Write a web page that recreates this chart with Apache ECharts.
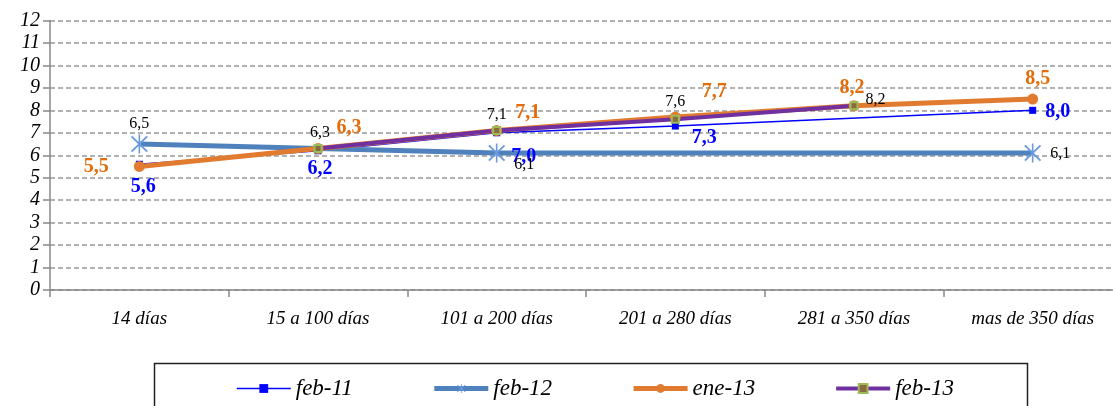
<!DOCTYPE html>
<html>
<head>
<meta charset="utf-8">
<script src="https://cdn.jsdelivr.net/npm/echarts@6/dist/echarts.min.js"></script>
<style>
  html, body { margin: 0; padding: 0; background: #fff; }
  #chart { width: 1113px; height: 406px; }
</style>
</head>
<body>
<div id="chart"></div>
<script>
// data
var categories = ['14 días', '15 a 100 días', '101 a 200 días', '201 a 280 días', '281 a 350 días', 'mas de 350 días'];
var feb11 = [5.6, 6.2, 7.0, 7.3, null, 8.0];
var feb12 = [6.5, null, 6.1, null, null, 6.1];
var ene13 = [5.5, 6.3, 7.1, 7.7, 8.2, 8.5];
var feb13 = [null, 6.3, 7.1, 7.6, 8.2, null];
var yTicks = [0, 1, 2, 3, 4, 5, 6, 7, 8, 9, 10, 11, 12];

var serif = 'Liberation Serif';

// label placement per point: [position, offsetX, offsetY]
var feb11Pos = [['bottom', 4, 4], ['bottom', 2, 0], ['right', 6, 24], ['right', 8, 12], null, ['right', 4, 1]];
var feb12Pos = [['top', 0, 2], null, ['right', 4, 12], null, null, ['right', 4, 1]];
var ene13Pos = [['left', -20, 0], ['right', 8, -21], ['right', 8, -18], ['right', 16, -25], ['top', -2, 2], ['top', 5, 0]];
var feb13Pos = [null, ['top', 2, 2], ['top', 0, 2], ['top', 0, 0], ['right', 2, -6]];

function fmt(v) { return v.toFixed(1).replace('.', ','); }

function build(values, pos) {
    return values.map(function (v, i) {
        if (v == null) return null;
        var p = pos[i];
        if (!p) return { value: v, label: { show: false } };
        return { value: v, label: { show: true, position: p[0], offset: [p[1], p[2]] } };
    });
}

var starPath = 'path://M9.2 0L10.8 0L10.8 20L9.2 20Z' +
    'M1.6 2.6L2.9 1.4L18.4 17.4L17.1 18.6Z' +
    'M17.1 1.4L18.4 2.6L2.9 18.6L1.6 17.4Z';

var chart = echarts.init(document.getElementById('chart'));

var option = {
    animation: false,
    textStyle: { fontFamily: serif },
    grid: { left: 50, right: -9, top: 20.5, bottom: 116, outerBoundsMode: 'none', containLabel: false },
    graphic: [{
        type: 'rect',
        shape: { x: 154.5, y: 363.5, width: 873, height: 60 },
        style: { fill: 'none', stroke: '#222', lineWidth: 1.5 }
    }],
    legend: {
        left: 231,
        top: 372,
        itemWidth: 54,
        itemHeight: 11,
        itemGap: 79,
        textStyle: { fontFamily: serif, fontStyle: 'italic', fontSize: 23, color: '#000' },
        data: [
            { name: 'feb-11', lineStyle: { width: 1.5 } },
            { name: 'feb-12', lineStyle: { width: 5 } },
            { name: 'ene-13', lineStyle: { width: 5 } },
            { name: 'feb-13', lineStyle: { width: 4 } }
        ]
    },
    xAxis: {
        type: 'category',
        data: categories,
        boundaryGap: true,
        axisLine: { lineStyle: { color: '#888', width: 1.5 } },
        axisTick: { show: true, length: 7, lineStyle: { color: '#888', width: 1.5 } },
        axisLabel: { fontFamily: serif, fontStyle: 'italic', fontSize: 19, color: '#000', margin: 19 }
    },
    yAxis: {
        type: 'value',
        min: yTicks[0],
        max: yTicks[yTicks.length - 1],
        interval: 1,
        axisLine: { show: true, lineStyle: { color: '#888', width: 1.5 } },
        axisTick: { show: true, length: 7, lineStyle: { color: '#888', width: 1.5 } },
        axisLabel: { fontFamily: serif, fontStyle: 'italic', fontSize: 20, color: '#000', margin: 10 },
        splitLine: { lineStyle: { color: '#999', type: [5, 3], width: 1.5 } }
    },
    series: [
        {
            name: 'feb-11',
            type: 'line',
            data: build(feb11, feb11Pos),
            connectNulls: true,
            symbol: 'rect',
            symbolSize: 7,
            color: '#0000ff',
            lineStyle: { color: '#0000ff', width: 1.5 },
            itemStyle: { color: '#0000ff' },
            label: { fontFamily: serif, fontWeight: 'bold', fontSize: 20, color: '#0000ff', formatter: function (p) { return fmt(p.value); } }
        },
        {
            name: 'feb-12',
            type: 'line',
            data: build(feb12, feb12Pos),
            connectNulls: true,
            symbol: starPath,
            symbolSize: [17, 19],
            color: '#4f81bd',
            lineStyle: { color: '#4f81bd', width: 5 },
            itemStyle: { color: '#6a9be0' },
            label: { fontFamily: serif, fontSize: 16, color: '#000', formatter: function (p) { return fmt(p.value); } }
        },
        {
            name: 'ene-13',
            type: 'line',
            data: build(ene13, ene13Pos),
            symbol: 'circle',
            symbolSize: 11,
            color: '#e07b30',
            lineStyle: { color: '#e07b30', width: 5 },
            itemStyle: { color: '#e07b30' },
            label: { fontFamily: serif, fontWeight: 'bold', fontSize: 20, color: '#e46c0a', formatter: function (p) { return fmt(p.value); } }
        },
        {
            name: 'feb-13',
            type: 'line',
            data: build(feb13, feb13Pos),
            symbol: 'rect',
            symbolSize: 7,
            color: '#7030a0',
            lineStyle: { color: '#7030a0', width: 4 },
            itemStyle: { color: '#8a6a40', borderColor: '#9bbb59', borderWidth: 2 },
            label: { fontFamily: serif, fontSize: 16, color: '#000', formatter: function (p) { return fmt(p.value); } }
        }
    ]
};
chart.setOption(option);
</script>
</body>
</html>
